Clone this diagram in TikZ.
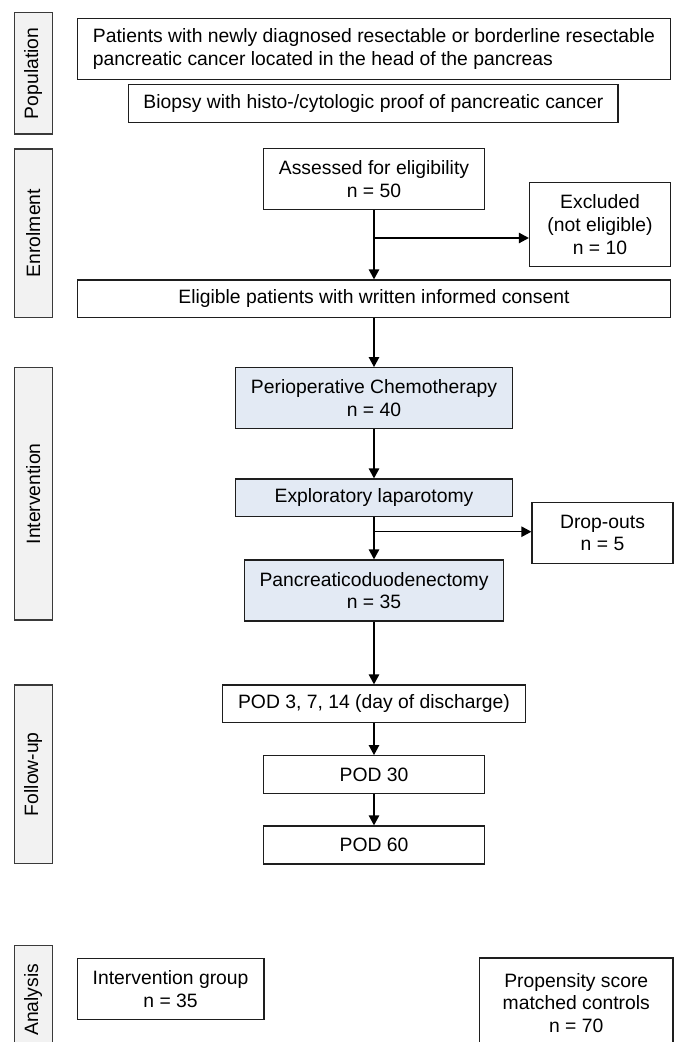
\documentclass[tikz,border=0pt]{standalone}
\usepackage{fontspec}
\setmainfont{Liberation Sans}
\usetikzlibrary{arrows.meta}
\definecolor{sidefill}{HTML}{F2F2F2}
\definecolor{sidedraw}{HTML}{3A3A3A}
\definecolor{bluefill}{HTML}{E3EAF4}
\definecolor{boxdraw}{HTML}{1E1E1E}
\begin{document}
\begin{tikzpicture}[x=0.75pt,y=-0.75pt,
  wh/.style 2 args={minimum width=#1*0.75pt,minimum height=#2*0.75pt},
  basebox/.style={draw=boxdraw,line width=0.95pt,inner sep=0pt,align=center,
    font=\fontsize{14.5}{17}\selectfont},
  whitebox/.style={basebox,fill=white},
  bluebox/.style={basebox,fill=bluefill},
  sidebox/.style={draw=sidedraw,fill=sidefill,line width=1.1pt,inner sep=0pt,
    rotate=90,font=\fontsize{14.5}{17}\selectfont},
  arr/.style={line width=1.1pt,-{Triangle[length=7.5pt,width=7.8pt]}},
  ln/.style={line width=1.1pt}]
\useasboundingbox (0,0) rectangle (681,1042);
\clip (0,0) rectangle (681,1042);
\fill[white] (0,0) rectangle (681,1042);

% side labels
\node[sidebox,wh={121.3}{38}] (sPop) at (33.25,73.35) {Population};
\node[sidebox,wh={168.3}{38}] (sEnr) at (33.25,233.15) {Enrolment};
\node[sidebox,wh={252.3}{38}] (sInt) at (33.25,493.85) {Intervention};
\node[sidebox,wh={178.3}{38}] (sFol) at (33.25,774.15) {Follow-up};
\node[sidebox,wh={108.3}{38}] (sAna) at (33.25,999.85) {Analysis};

% boxes
\node[whitebox,wh={593}{61},align=left] (pat) at (374,48.8)
  {Patients with newly diagnosed resectable or borderline resectable\\
   pancreatic cancer located in the head of the pancreas};
\node[whitebox,wh={489.2}{38.4}] (bio) at (373.4,103.5)
  {Biopsy with histo-/cytologic proof of pancreatic cancer};
\node[whitebox,wh={220.3}{61}] (ass) at (374,179.2)
  {Assessed for eligibility\\n = 50};
\node[whitebox,wh={141}{84}] (exc) at (600,224.7)
  {Excluded\\(not eligible)\\n = 10};
\node[whitebox,wh={593}{37.3}] (eli) at (374,298.65)
  {Eligible patients with written informed consent};
\node[bluebox,wh={276.7}{61}] (chem) at (374,398.2)
  {Perioperative Chemotherapy\\n = 40};
\node[bluebox,wh={276.7}{37.7}] (lap) at (374,497.85)
  {Exploratory laparotomy};
\node[whitebox,wh={141}{61}] (drop) at (602.5,532.8)
  {Drop-outs\\n = 5};
\node[bluebox,wh={258.9}{61}] (pd) at (374,590.5)
  {Pancreaticoduodenectomy\\n = 35};
\node[whitebox,wh={302.7}{37.7}] (pod3) at (374,703.85)
  {POD 3, 7, 14 (day of discharge)};
\node[whitebox,wh={220.3}{38}] (pod30) at (374,774.7) {POD 30};
\node[whitebox,wh={220.3}{38}] (pod60) at (374,845) {POD 60};
\node[whitebox,wh={186.8}{61}] (ig) at (170.6,988.8)
  {Intervention group\\n = 35};
\node[whitebox,wh={193.5}{90}] (psm) at (576.25,1003)
  {Propensity score\\matched controls\\n = 70};

% connectors
\coordinate (br1) at (374,238);
\coordinate (br2) at (374,531.7);
\draw[arr] (ass.south) -- (eli.north);
\draw[arr] (br1) -- (br1 -| exc.west);
\draw[arr] (eli.south) -- (chem.north);
\draw[arr] (chem.south) -- (lap.north);
\draw[arr] (lap.south) -- (pd.north);
\draw[arr] (br2) -- (br2 -| drop.west);
\draw[arr] (pd.south) -- (pod3.north);
\draw[arr] (pod3.south) -- (pod30.north);
\draw[arr] (pod30.south) -- (pod60.north);
\end{tikzpicture}
\end{document}
